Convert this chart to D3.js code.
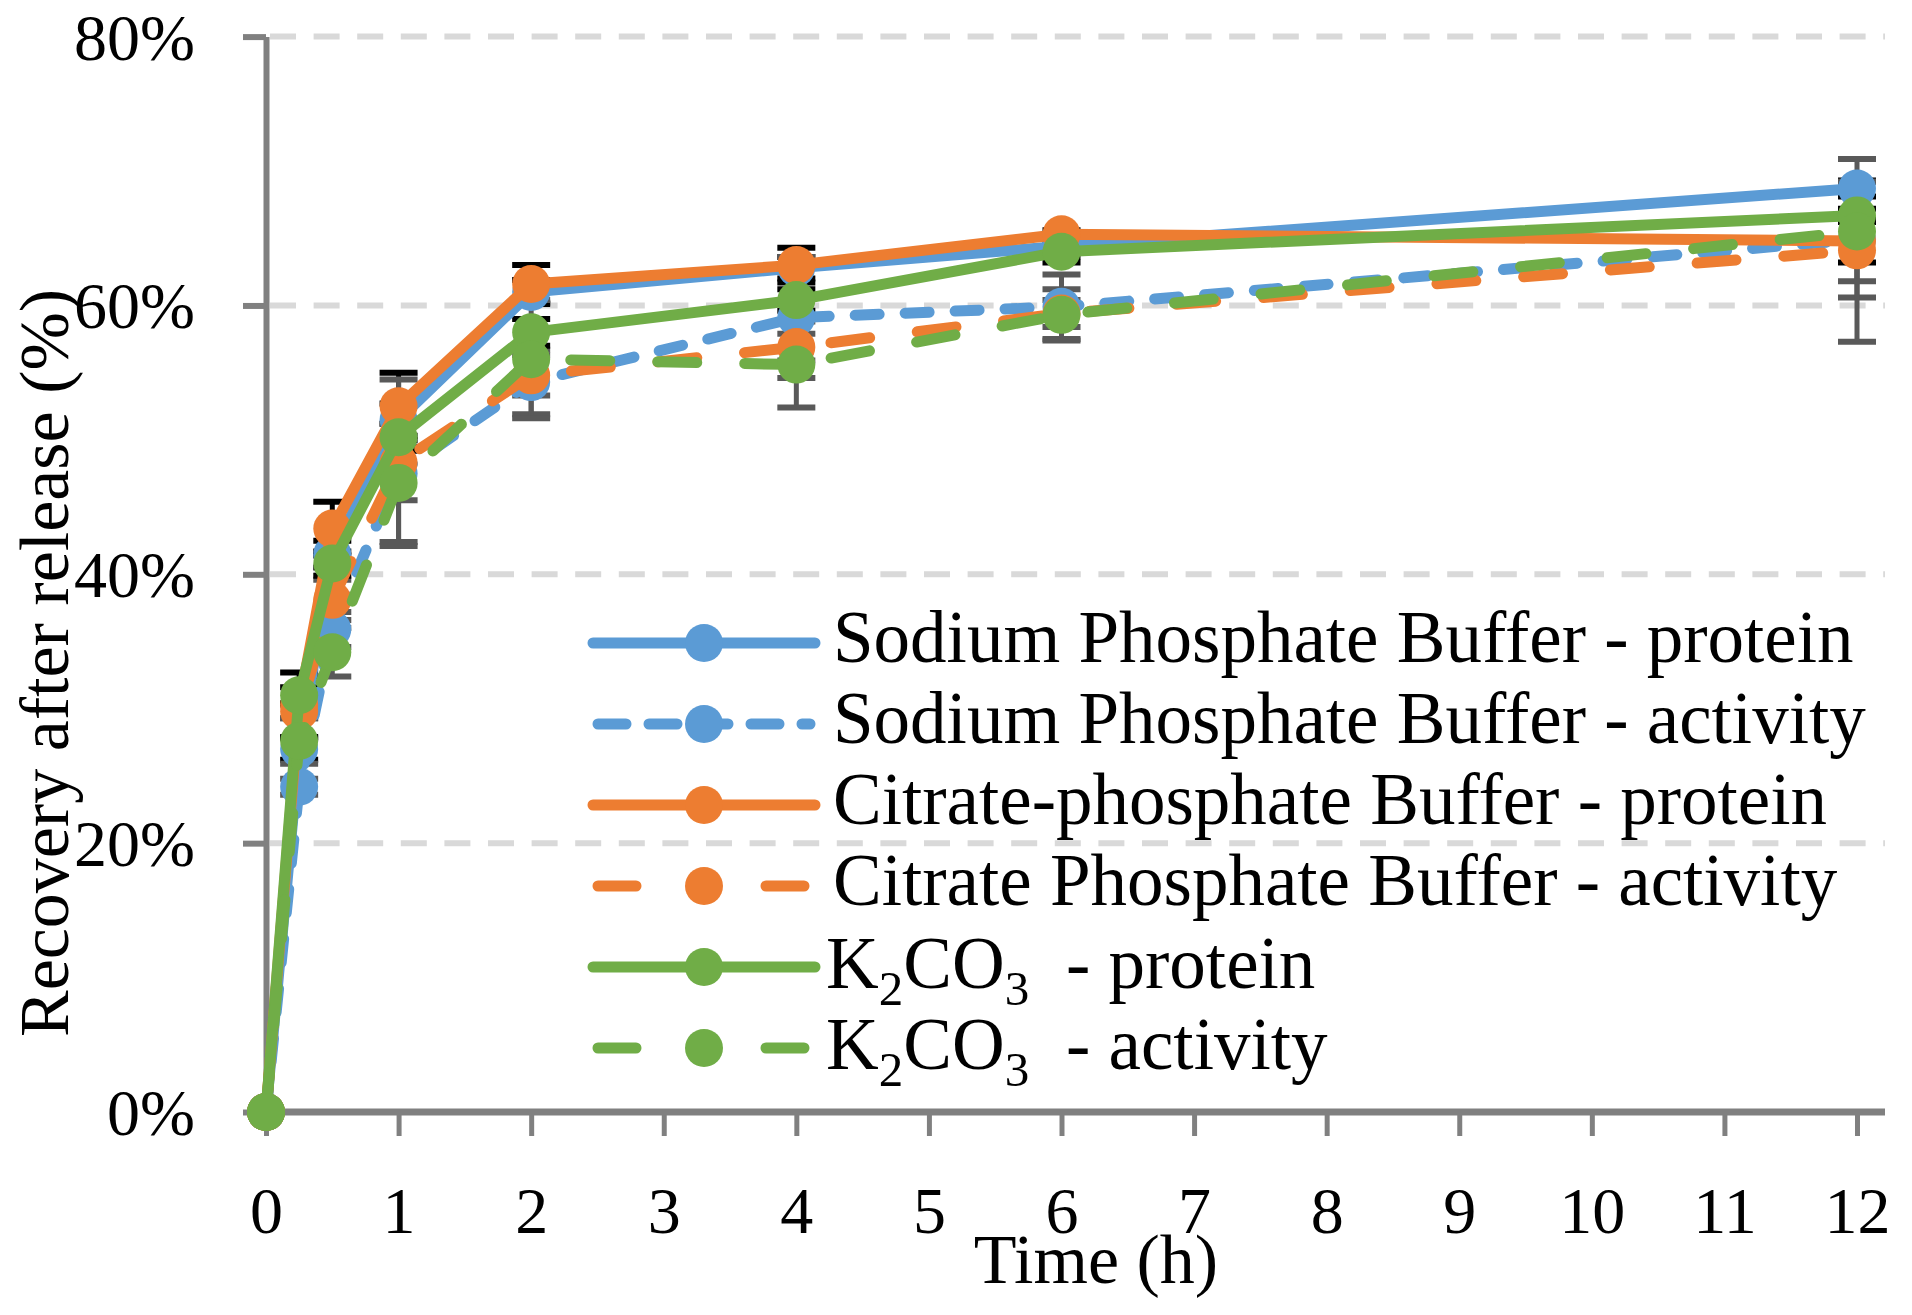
<!DOCTYPE html>
<html>
<head>
<meta charset="utf-8">
<script src="https://d3js.org/d3.v7.min.js"></script>
<style>
  body { margin: 0; background: #fff; }
  svg { display: block; }
  text { font-family: "Liberation Serif", "Times New Roman", serif; fill: #000; }
</style>
</head>
<body>
<div id="chart"></div>
<script>
// sampling times (h)
var hours = [0, 0.25, 0.5, 1, 2, 4, 6, 12];

// recovery after release (%)
var sodiumProtein   = [0, 27.0, 41.5, 51.5, 61.0, 62.8, 64.4, 68.7];
var sodiumActivity  = [0, 24.2, 35.9, 47.5, 54.3, 59.1, 59.9, 64.9];
var citrateProtein  = [0, 30.3, 43.4, 52.5, 61.6, 63.0, 65.3, 64.8];
var citrateActivity = [0, 29.8, 38.1, 48.3, 54.8, 56.9, 59.4, 64.1];
var k2co3Protein    = [0, 31.0, 40.8, 50.2, 58.0, 60.4, 64.0, 66.7];
var k2co3Activity   = [0, 27.6, 34.2, 46.8, 56.0, 55.6, 59.3, 65.5];

// error bars (+/- %)
var sodiumProteinErr   = [0, 0.8, 1.0, 1.2, 0.9, 0.8, 0.8, 0.6];
var sodiumActivityErr  = [0, 0.6, 1.3, 2.0, 2.4, 4.5, 2.4, 4.3];
var citrateProteinErr  = [0, 2.4, 2.0, 2.5, 1.4, 1.3, 0.3, 1.6];
var citrateActivityErr = [0, 0.5, 1.5, 6.2, 1.5, 1.0, 1.0, 6.8];
var k2co3ProteinErr    = [0, 0.6, 0.9, 1.0, 1.0, 0.8, 0.8, 0.5];
var k2co3ActivityErr   = [0, 1.7, 1.8, 4.4, 4.4, 3.2, 1.9, 3.7];

var yTicks = [0, 20, 40, 60, 80];
var xTicks = [0, 1, 2, 3, 4, 5, 6, 7, 8, 9, 10, 11, 12];

var blue = "#5B9BD5", orange = "#ED7D31", green = "#70AD47";

var series = [
  {name: "Sodium Phosphate Buffer - protein", values: sodiumProtein, err: sodiumProteinErr, color: blue, dash: null, errColor: "#000"},
  {name: "Sodium Phosphate Buffer - activity", values: sodiumActivity, err: sodiumActivityErr, color: blue, dash: "24,26", errColor: "#595959"},
  {name: "Citrate-phosphate Buffer - protein", values: citrateProtein, err: citrateProteinErr, color: orange, dash: null, errColor: "#000"},
  {name: "Citrate Phosphate Buffer - activity", values: citrateActivity, err: citrateActivityErr, color: orange, dash: "39,48", errColor: "#595959"},
  {name: "K2CO3|- protein", values: k2co3Protein, err: k2co3ProteinErr, color: green, dash: null, errColor: "#000"},
  {name: "K2CO3|- activity", values: k2co3Activity, err: k2co3ActivityErr, color: green, dash: "39,48", errColor: "#595959"}
];

var width = 1912, height = 1315;
var plotLeft = 266, plotRight = 1857, plotTop = 36.6, plotBottom = 1112, axisEnd = 1885;

var svg = d3.select("#chart").append("svg")
    .attr("width", width)
    .attr("height", height);

var x = d3.scaleLinear().domain([0, 12]).range([plotLeft, plotRight]);
var y = d3.scaleLinear().domain([0, 80]).range([plotBottom, plotTop]);

// gridlines
svg.append("g").selectAll("line")
    .data(yTicks.filter(function(d) { return d > 0; }))
    .enter().append("line")
    .attr("x1", plotLeft + 4).attr("x2", axisEnd)
    .attr("y1", function(d) { return y(d); })
    .attr("y2", function(d) { return y(d); })
    .style("stroke", "#D9D9D9")
    .style("stroke-width", 6)
    .style("stroke-dasharray", "26,17.6");

// y axis
var yAxis = svg.append("g")
    .attr("transform", "translate(" + plotLeft + ",0)")
    .call(d3.axisLeft(y).tickValues(yTicks).tickSize(23).tickSizeOuter(0)
        .tickPadding(48).tickFormat(function(d) { return d + "%"; }));
yAxis.select(".domain").style("stroke", "#808080").style("stroke-width", 6);
yAxis.selectAll(".tick line").style("stroke", "#808080").style("stroke-width", 6);
yAxis.selectAll(".tick text")
    .style("font-family", "'Liberation Serif', serif")
    .style("font-size", "66px")
    .attr("dy", "0.34em");

// x axis
var xAxis = svg.append("g")
    .attr("transform", "translate(0," + plotBottom + ")")
    .call(d3.axisBottom(x).tickValues(xTicks).tickSize(24).tickSizeOuter(0).tickPadding(50));
xAxis.select(".domain").remove();
xAxis.append("line")
    .attr("x1", plotLeft - 3).attr("x2", axisEnd)
    .style("stroke", "#808080").style("stroke-width", 7);
xAxis.selectAll(".tick line").style("stroke", "#808080").style("stroke-width", 5);
xAxis.selectAll(".tick text")
    .style("font-family", "'Liberation Serif', serif")
    .style("font-size", "66px")
    .attr("dy", "0.71em");

// axis titles
svg.append("text")
    .attr("x", 1096).attr("y", 1283)
    .attr("text-anchor", "middle")
    .style("font-size", "70px")
    .text("Time (h)");

svg.append("text")
    .attr("transform", "translate(68,663) rotate(-90)")
    .attr("text-anchor", "middle")
    .style("font-size", "70px")
    .text("Recovery after release (%)");

// error bars
var errG = svg.append("g");
series.forEach(function(s) {
  var g = errG.append("g");
  var pts = hours.map(function(h, i) { return {h: h, v: s.values[i], e: s.err[i]}; })
      .filter(function(d) { return d.e > 0; });
  g.selectAll("line.stem").data(pts).enter().append("line")
      .attr("x1", function(d) { return x(d.h); }).attr("x2", function(d) { return x(d.h); })
      .attr("y1", function(d) { return y(d.v - d.e); }).attr("y2", function(d) { return y(d.v + d.e); })
      .style("stroke", s.errColor).style("stroke-width", 5);
  [-1, 1].forEach(function(sign) {
    g.selectAll("line.cap" + sign).data(pts).enter().append("line")
        .attr("x1", function(d) { return x(d.h) - 19; }).attr("x2", function(d) { return x(d.h) + 19; })
        .attr("y1", function(d) { return y(d.v + sign * d.e); })
        .attr("y2", function(d) { return y(d.v + sign * d.e); })
        .style("stroke", s.errColor).style("stroke-width", 6);
  });
});

// lines and markers
var line = d3.line()
    .x(function(d) { return x(d.h); })
    .y(function(d) { return y(d.v); });

series.forEach(function(s) {
  var pts = hours.map(function(h, i) { return {h: h, v: s.values[i]}; });
  svg.append("path")
      .datum(pts)
      .attr("d", line)
      .style("fill", "none")
      .style("stroke", s.color)
      .style("stroke-width", 11)
      .style("stroke-linejoin", "round")
      .style("stroke-linecap", "round")
      .style("stroke-dasharray", s.dash);
  svg.append("g").selectAll("circle")
      .data(pts)
      .enter().append("circle")
      .attr("cx", function(d) { return x(d.h); })
      .attr("cy", function(d) { return y(d.v); })
      .attr("r", 19)
      .style("fill", s.color);
});

// legend
var legend = svg.append("g");
var rowY = d3.scaleLinear().domain([0, 5]).range([643, 1048]);

series.forEach(function(s, i) {
  var yy = rowY(i);
  legend.append("line")
      .attr("x1", 593 + (s.dash ? 5 : 0)).attr("x2", 815 - (s.dash ? 5 : 0))
      .attr("y1", yy).attr("y2", yy)
      .style("stroke", s.color)
      .style("stroke-width", 11)
      .style("stroke-linecap", "round")
      .style("stroke-dasharray", s.dash ? (s.dash === "24,26" ? "28,23" : "38,130") : null);
  legend.append("circle")
      .attr("cx", 704).attr("cy", yy).attr("r", 19)
      .style("fill", s.color);

  var parts = s.name.split("|");
  if (parts.length === 1) {
    legend.append("text")
        .attr("x", 833).attr("y", yy + 19)
        .style("font-size", "73px")
        .text(s.name);
  } else {
    var t = legend.append("text")
        .attr("x", 826).attr("y", yy + 21)
        .style("font-size", "73px");
    t.append("tspan").text("K");
    t.append("tspan").attr("dy", 17).style("font-size", "49px").text("2");
    t.append("tspan").attr("dy", -17).text("CO");
    t.append("tspan").attr("dy", 17).style("font-size", "49px").text("3");
    t.append("tspan").attr("dy", -17).attr("x", 1066).text(parts[1]);
  }
});
</script>
</body>
</html>
